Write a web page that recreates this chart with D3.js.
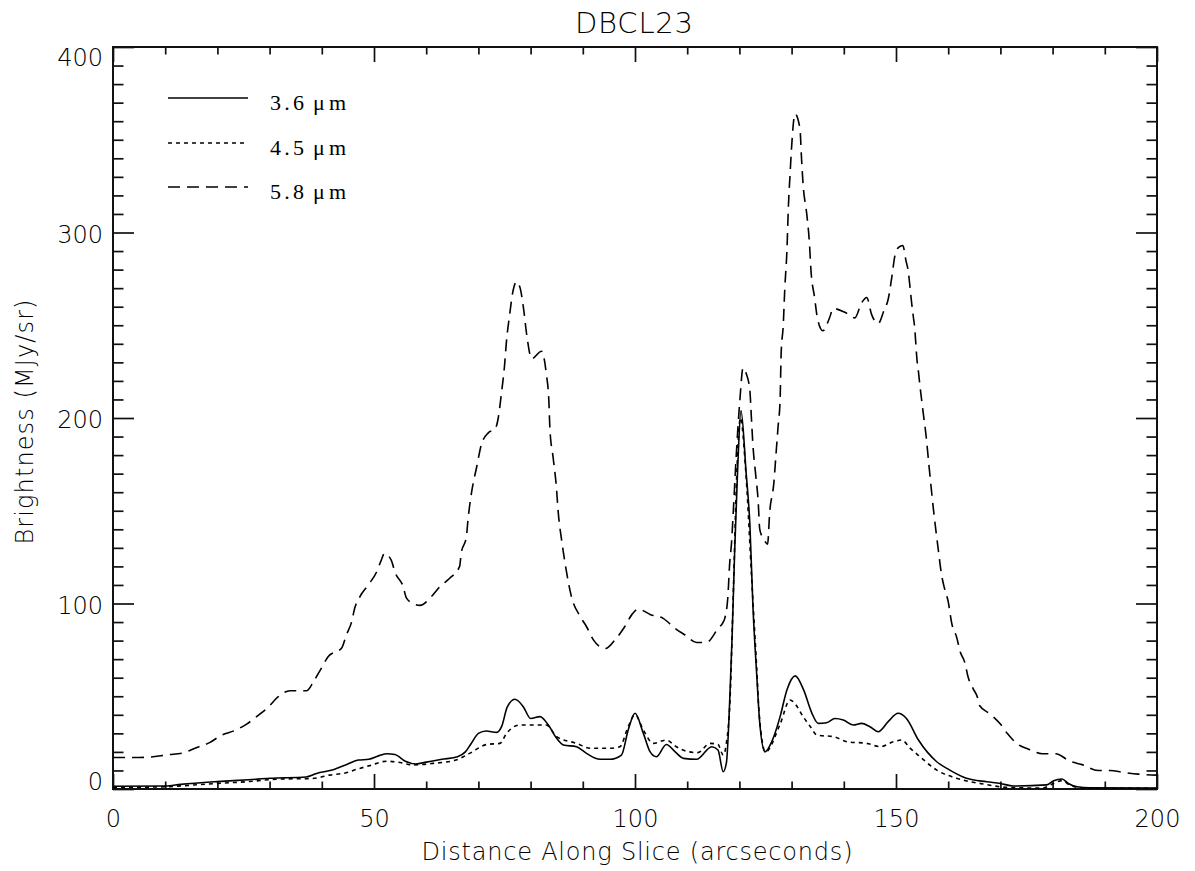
<!DOCTYPE html>
<html>
<head>
<meta charset="utf-8">
<script src="https://cdn.jsdelivr.net/npm/d3@7"></script>
<style>
  body { margin: 0; background: #fff; }
  svg text { fill: #000; }
</style>
</head>
<body>
<svg id="chart"></svg>
<script>
// Brightness profiles along the DBCL23 slice, [distance (arcsec), brightness (MJy/sr)]
const band36 = [
  [0,1.5],[10,1.6],[13,2.5],[20,4],[26,5],[30,5.8],[37,6.5],[39,8.4],[42,10.2],[45,13.5],
  [47,15.6],[49,16],[51,18],[52.5,19],[54,18.6],[56,15],[58,13.5],[60,14.5],[63,16],[66,17.4],
  [67.5,20],[68.5,24],[70,30],[71.5,31.3],[73.5,30.5],[74.5,34],[75.5,44],[77,48.4],[78.6,44.4],
  [80,38],[81.8,39],[83.4,34.5],[85,27.3],[86.3,23.7],[88.8,22.8],[90.7,19.2],[93.3,16],[95.2,16],
  [97.4,18.3],[98.7,31.8],[100,40.8],[101.6,30],[102.9,20],[104.1,17.4],[106,24],[107.7,20],
  [109.3,16.5],[111.8,16],[114.7,22.8],[115.9,21],[116.9,9.3],[117.5,13.9],[118.2,51.6],[118.6,82],
  [119.1,129],[119.7,175],[120.3,204],[121.3,170],[122,143],[122.6,98],[123.3,62.5],[123.9,35.6],
  [124.9,20],[126.2,25.5],[127.8,39],[129.1,53.4],[130.7,61],[132.3,53.4],[133.9,40.8],[135.1,35.4],
  [136.7,35.7],[138.3,38],[139.9,37.2],[141.8,34.5],[143.4,35.4],[145,33.6],[146.6,30.9],[148.5,36.3],
  [150.4,40.8],[152,38],[154.3,26.4],[157.8,14.7],[160.3,10.2],[163.5,5.8],[167.4,3.9],[170,3],
  [172.5,1.6],[178.9,2.2],[180.2,4.5],[181.8,5.4],[183,3],[184.7,1.2],[187.2,0.7],[200,0.5]
];

const band45 = [
  [0,0.8],[10,1.2],[13,1.7],[20,3],[26,4],[32,5.4],[38,5.6],[41.5,7.5],[45,9],[46,10],[49.2,12.6],
  [52.4,15],[54.3,14.6],[57.5,13],[61.3,13.8],[65.7,15.6],[68.3,19.2],[71.6,24],[74.1,24.6],[75.4,30],
  [77.9,34.5],[80.4,34.5],[83,34.5],[85,28.2],[88.8,24.6],[91.4,22],[95.2,22],[97.1,22.8],[98.7,33.6],
  [100,40],[101.6,31.8],[103.5,24.6],[106,26.4],[107.9,22.8],[110.4,20],[112,19.6],[114.4,24.6],
  [115.9,24],[116.9,18.3],[117.5,24.6],[118.2,48],[118.8,102],[119.5,170],[120.2,200],[121.2,172],
  [122.4,111],[123.3,66],[123.8,40],[125,20],[127.8,35],[129.7,48],[130.7,45.8],[132.3,38.6],
  [133.6,33.6],[134.9,29],[138.1,28.2],[140.6,25.5],[144.4,24.6],[147,22.8],[149.5,25.5],[151.1,26.4],
  [152.7,22],[154.6,17.4],[157.8,10.2],[161.6,5.8],[166.7,2.7],[171.2,0.9],[178,0.5],[180.2,3],
  [181.8,4.5],[183.3,2.2],[186,0.5],[200,0.3]
];

const band58 = [
  [0,17],[5,17],[7,17.2],[10.5,18.5],[13.4,19.4],[15.7,22],[18.5,25],[20.8,29],[23.3,31.5],[25.6,35],
  [27.5,39],[29.7,44],[31.6,49.6],[33.9,53],[37.1,53],[38.6,58.8],[39.9,65],[41.2,71.3],[43.8,76],
  [44.7,83],[45.7,90],[46.3,97.4],[47.3,103.7],[48.9,110],[50.5,117],[51.4,123.4],[52,127],[53.3,123.4],
  [54,117],[55.6,109],[56.2,103],[57.5,100],[58.8,99],[61,103.7],[62.6,109],[64.5,113.6],[66.4,120],
  [66.7,127],[67.7,136],[68,145],[68.7,160],[69.7,174],[70.6,186],[71.9,192],[73.2,194],[73.8,200],
  [74.4,213],[75,228],[75.4,242],[76,256],[76.6,268],[77.3,273.5],[78,270],[78.6,260],[79.3,244],
  [80.2,232],[82.1,236],[83,224],[83.5,209],[83.7,194],[84.3,179],[84.9,164],[85.3,149],[86,133],
  [86.7,120],[87.8,104],[89.5,93],[90.7,87.6],[92,80.5],[94.3,75.7],[96.2,80.5],[97.8,86.5],[99.4,94],
  [100.6,97],[103,94],[105.4,92],[107.7,86.5],[109.6,83],[111.8,79],[113.7,79],[115.9,86.5],[116.9,90],
  [117.2,92],[117.8,104],[118.1,120],[118.5,133],[118.8,148],[119.4,180],[120.1,210],[120.7,227],
  [121.3,224],[122,215],[122.3,200],[122.6,185],[123.1,170],[123.6,155],[123.9,140],[124.8,134],
  [125.4,132],[125.8,149],[126.6,165],[127,180],[127.4,195],[127.8,210],[128,235],[128.4,250],
  [128.7,270],[129.1,290],[129.4,315],[129.7,331],[130,346],[130.65,364],[131.6,356],[131.9,340],
  [132.2,326],[132.9,310],[133.4,295],[133.7,280],[134.4,265],[135,253],[136,247],[137.2,253.5],
  [138,259],[140.2,257],[142.1,254],[143.4,262],[144.4,265],[145.3,256],[146.6,251],[147.7,258],
  [148.5,264],[149.2,276],[149.8,287.6],[150.5,292],[151.3,293],[151.9,285],[152.4,278],[152.7,270],
  [153,262],[153.3,255],[153.6,248],[153.8,240],[154,232],[154.3,225],[154.6,217],[154.9,210],
  [155.2,203],[155.7,192],[156.4,172],[157.2,150],[158.1,129],[158.7,116],[159.3,108],[160,101],
  [160.7,89],[161.6,82],[162.3,74],[163.2,68],[163.8,60.5],[164.8,54],[165.7,48.6],[166,45],[168,40.5],
  [170,35],[171.3,30],[173.4,24],[175.3,21.6],[178,19],[180.6,19],[183.3,15],[185.8,13],[188.7,10],
  [191,10],[193.5,9],[196.4,8],[200,7.5]
];

const legendNumbers = ["3.6", "4.5", "5.8"];
const legendUnit = "\u03bcm";
const xMajorTicks = [0, 50, 100, 150, 200];
const yMajorTicks = [0, 100, 200, 300, 400];

// Dimensions
let width = 1195;
let height = 871;
let margin = { top: 47, right: 38, bottom: 82, left: 113 };

let svg = d3.select("#chart")
    .attr("width", width)
    .attr("height", height);

let xScale = d3.scaleLinear()
    .domain([0, 200])
    .range([margin.left, width - margin.right]);

let yScale = d3.scaleLinear()
    .domain([0, 400])
    .range([height - margin.bottom, margin.top]);

let xMinor = d3.range(0, 201, 10).filter(v => v % 50 !== 0);
let yMinor = d3.range(0, 401, 10).filter(v => v % 100 !== 0);

const labelFont = "'DejaVu Sans', sans-serif";

// axis helper: draws major + minor ticks, labels only on major if wanted
function drawAxis(axisFn, scale, major, minor, majorLen, minorLen, transform, labels) {
    let g = svg.append("g").attr("transform", transform);
    g.call(axisFn(scale).tickValues(minor).tickSize(-minorLen).tickFormat(""));
    g.select(".domain").remove();
    let g2 = svg.append("g").attr("transform", transform);
    let ax = axisFn(scale).tickValues(major).tickSize(-majorLen);
    if (labels) ax.tickFormat(d3.format("d")).tickPadding(labels);
    else ax.tickFormat("");
    g2.call(ax);
    g2.select(".domain").remove();
    svg.selectAll(".tick line").attr("stroke", "#111").attr("stroke-width", 1.7);
    return g2;
}

let bottom = drawAxis(d3.axisBottom, xScale, xMajorTicks, xMinor, 15, 7.5,
    `translate(0, ${height - margin.bottom})`, 21);
drawAxis(d3.axisTop, xScale, xMajorTicks, xMinor, 15, 7.5,
    `translate(0, ${margin.top})`, 0);
let left = drawAxis(d3.axisLeft, yScale, yMajorTicks, yMinor, 21, 10.5,
    `translate(${margin.left}, 0)`, 10);
drawAxis(d3.axisRight, yScale, yMajorTicks, yMinor, 21, 10.5,
    `translate(${width - margin.right}, 0)`, 0);

bottom.selectAll("text")
    .style("font-family", labelFont)
    .style("font-size", "24px")
    .style("font-weight", 200)
    .attr("fill", "#000");

left.selectAll("text")
    .style("font-family", labelFont)
    .style("font-size", "24px")
    .style("font-weight", 200)
    .attr("fill", "#000")
    .attr("dy", d => d === 400 ? "0.75em" : d === 0 ? "0em" : "0.4em");

// Frame
svg.append("rect")
    .attr("x", margin.left)
    .attr("y", margin.top)
    .attr("width", width - margin.left - margin.right)
    .attr("height", height - margin.top - margin.bottom)
    .attr("fill", "none")
    .attr("stroke", "#111")
    .attr("stroke-width", 2);

// Title and axis labels
svg.append("text")
    .attr("x", 634)
    .attr("y", 33)
    .attr("text-anchor", "middle")
    .style("font-family", labelFont)
    .style("font-size", "29px")
    .style("font-weight", 200)
    .attr("textLength", 118)
    .text("DBCL23");

svg.append("text")
    .attr("x", 637)
    .attr("y", 860)
    .attr("text-anchor", "middle")
    .style("font-family", labelFont)
    .style("font-size", "24px")
    .style("font-weight", 200)
    .attr("textLength", 431)
    .text("Distance Along Slice (arcseconds)");

svg.append("text")
    .attr("transform", "rotate(-90)")
    .attr("x", -422)
    .attr("y", 33)
    .attr("text-anchor", "middle")
    .style("font-family", labelFont)
    .style("font-size", "24px")
    .style("font-weight", 200)
    .attr("textLength", 245)
    .text("Brightness (MJy/sr)");

// Curves
svg.append("clipPath").attr("id", "plot-clip")
    .append("rect")
    .attr("x", margin.left).attr("y", margin.top)
    .attr("width", width - margin.left - margin.right)
    .attr("height", height - margin.top - margin.bottom);

let line = d3.line()
    .x(d => xScale(d[0]))
    .y(d => yScale(d[1]))
    .curve(d3.curveMonotoneX);

let dashes = [null, "4,4", "12,7"];
let series = [band36, band45, band58];

svg.append("g").attr("clip-path", "url(#plot-clip)")
    .selectAll("path")
    .data(series)
    .enter().append("path")
    .attr("d", line)
    .attr("fill", "none")
    .attr("stroke", "#000")
    .attr("stroke-width", 1.6)
    .attr("stroke-dasharray", (d, i) => dashes[i]);

// Legend
let legendY = [98, 143, 187];
legendNumbers.forEach((num, i) => {
    svg.append("line")
        .attr("x1", 168).attr("x2", 248)
        .attr("y1", legendY[i]).attr("y2", legendY[i])
        .attr("stroke", "#000")
        .attr("stroke-width", 1.6)
        .attr("stroke-dasharray", dashes[i]);
    svg.append("text")
        .attr("x", 270)
        .attr("y", legendY[i] + 12)
        .style("font-family", "'Liberation Serif', serif")
        .style("font-size", "22px")
        .attr("textLength", 34)
        .text(num);
    svg.append("text")
        .attr("x", 313)
        .attr("y", legendY[i] + 12)
        .style("font-family", "'Liberation Serif', serif")
        .style("font-size", "22px")
        .attr("textLength", 33)
        .text(legendUnit);
});
</script>
</body>
</html>
